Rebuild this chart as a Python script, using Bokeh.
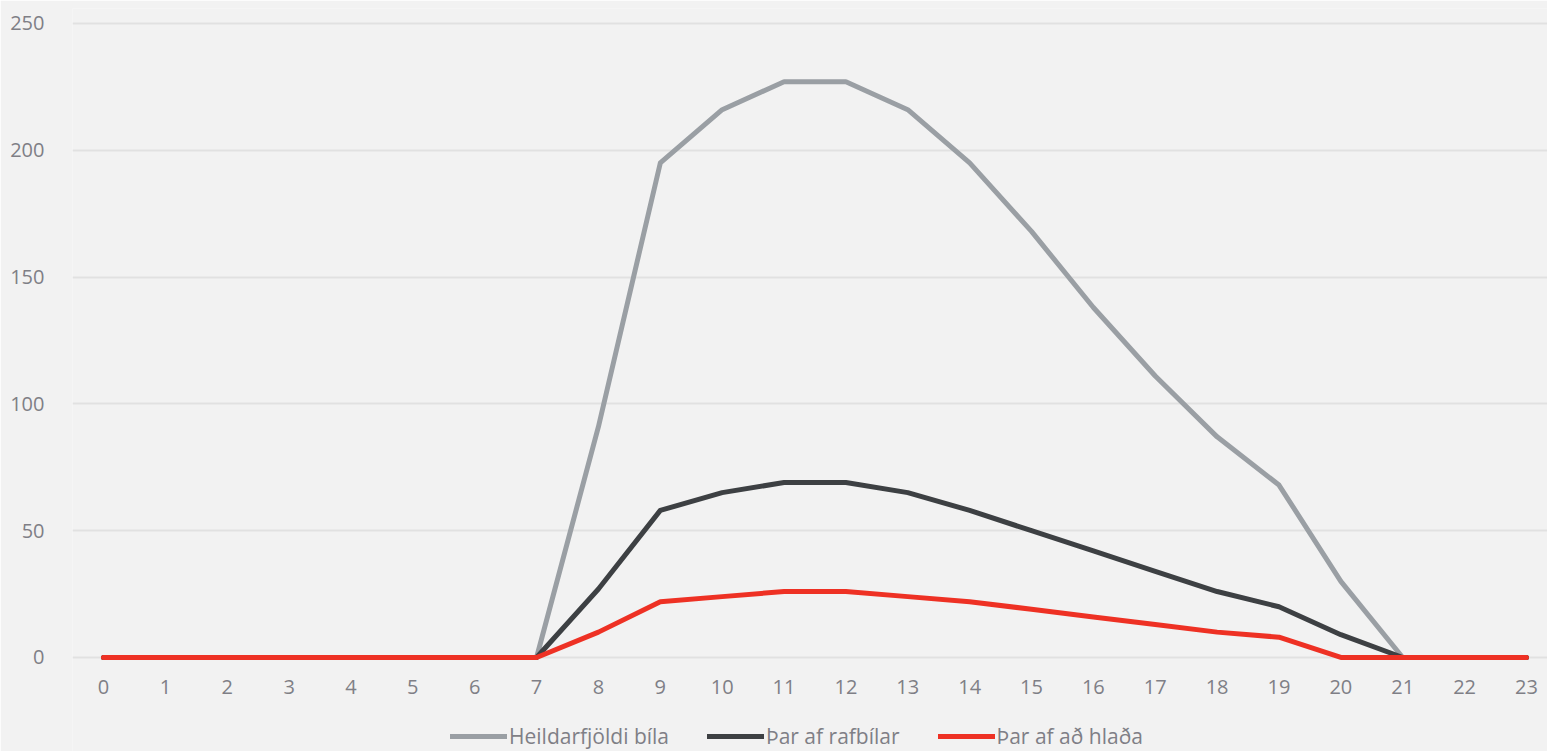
from bokeh.plotting import figure
from bokeh.models import FixedTicker, Legend, LegendItem, Range1d
from bokeh.embed import file_html
from bokeh.resources import INLINE

hours = list(range(24))
heildarfjoldi = [0, 0, 0, 0, 0, 0, 0, 0, 91, 195, 216, 227, 227, 216, 195, 168, 138, 111, 87, 68, 30, 0, 0, 0]
rafbilar = [0, 0, 0, 0, 0, 0, 0, 0, 27, 58, 65, 69, 69, 65, 58, 50, 42, 34, 26, 20, 9, 0, 0, 0]
hlada = [0, 0, 0, 0, 0, 0, 0, 0, 10, 22, 24, 26, 26, 24, 22, 19, 16, 13, 10, 8, 0, 0, 0, 0]
y_ticks = [0, 50, 100, 150, 200, 250]
series_names = ["Heildarfjöldi bíla", "Þar af rafbílar", "Þar af að hlaða"]
colors = ["#9a9fa4", "#3d4043", "#ee3124"]

FONT = "Open Sans"
TXT = "#7f7f86"
BG = "#f2f2f2"

p = figure(width=1547, height=751, output_backend="svg", toolbar_location=None,
           x_range=Range1d(-0.501, 23.34), y_range=Range1d(-37.07, 255.9),
           min_border_left=72, min_border_right=0, min_border_top=8, min_border_bottom=0)
p.background_fill_color = BG
p.border_fill_color = BG
p.outline_line_color = None

renderers = []
for vals, c in zip([heildarfjoldi, rafbilar, hlada], colors):
    r = p.line(hours, vals, line_color=c, line_width=5, line_cap="round", line_join="round")
    renderers.append(r)

p.xaxis.ticker = FixedTicker(ticks=hours)
p.yaxis.ticker = FixedTicker(ticks=y_ticks)
for ax in [p.xaxis[0], p.yaxis[0]]:
    ax.axis_line_color = None
    ax.major_tick_line_color = None
    ax.minor_tick_line_color = None
    ax.major_label_text_font = FONT
    ax.major_label_text_font_size = "20px"
    ax.major_label_text_color = TXT
p.xaxis.fixed_location = 0
p.xaxis.major_label_standoff = 17
p.yaxis.major_label_standoff = 22

p.xgrid.grid_line_color = None
p.ygrid.grid_line_color = "#e1e1e1"
p.ygrid.grid_line_width = 2
p.ygrid.ticker = FixedTicker(ticks=y_ticks)

legend = Legend(items=[LegendItem(label=n, renderers=[r]) for n, r in zip(series_names, renderers)],
                orientation="horizontal", location=(378, 1),
                background_fill_alpha=0, border_line_color=None,
                label_text_font=FONT, label_text_font_size="21px", label_text_color=TXT,
                glyph_width=57, label_standoff=2, spacing=38, margin=0, padding=0,
                label_height=20, glyph_height=20)
p.add_layout(legend, "center")

open("out.html", "w").write(file_html(p, INLINE))
